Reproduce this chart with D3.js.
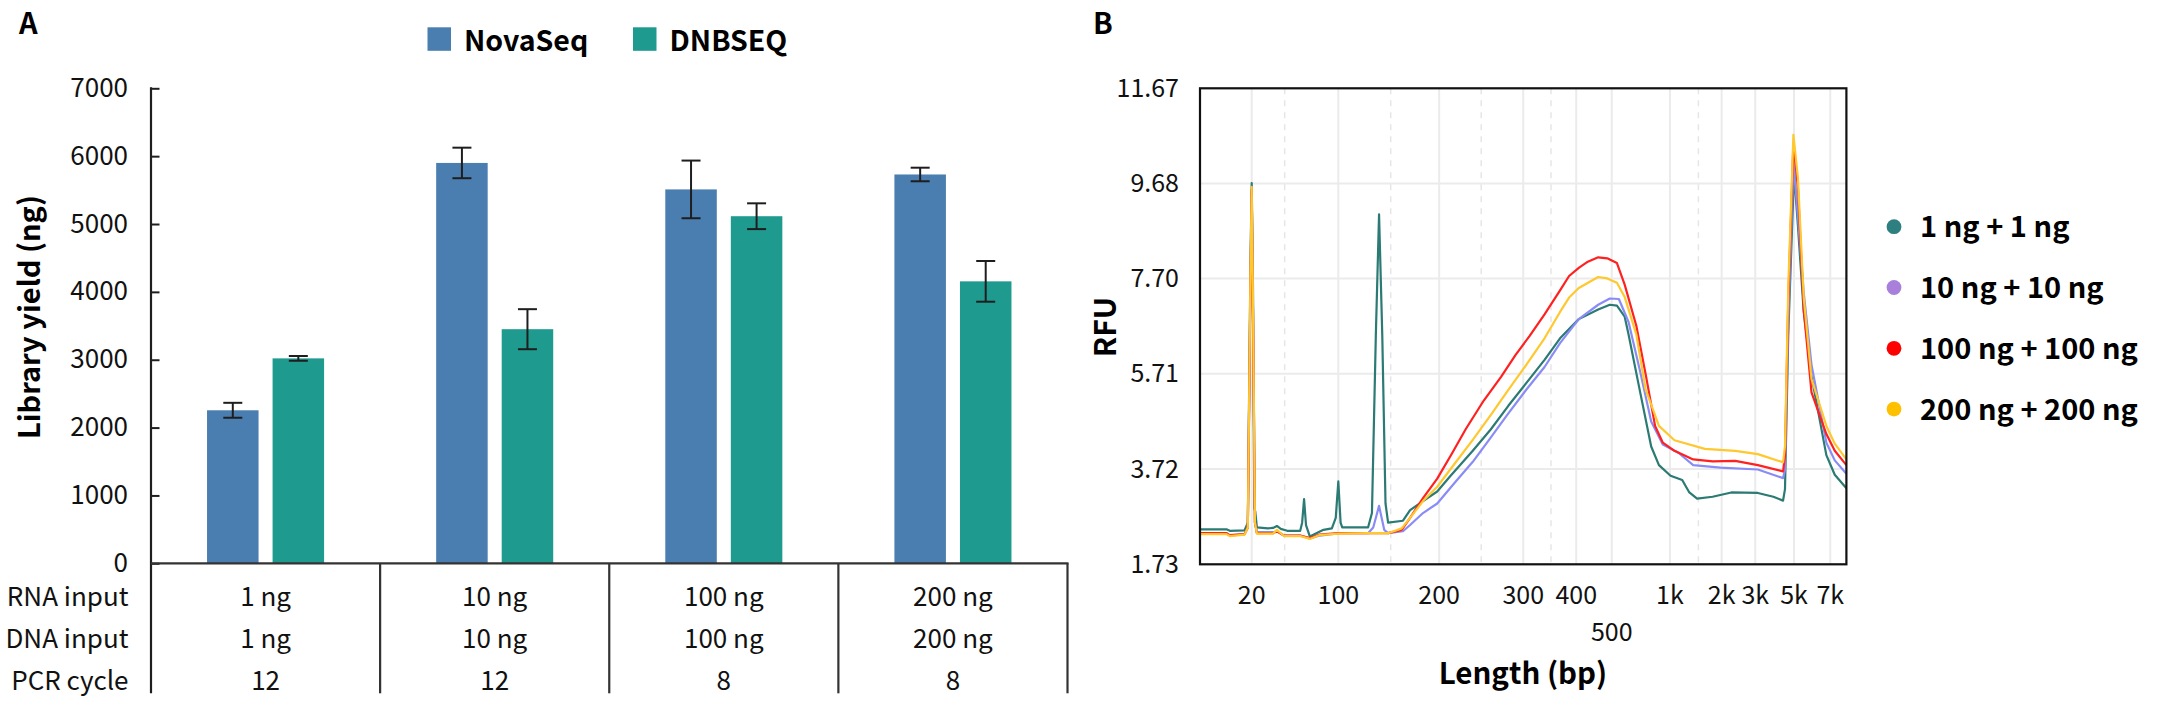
<!DOCTYPE html>
<html>
<head>
<meta charset="utf-8">
<script src="https://cdn.jsdelivr.net/npm/d3@7"></script>
<style>
  body { margin: 0; background: #fff; }
  svg { display: block; font-family: "Noto Sans CJK SC", "Noto Sans", sans-serif; }
</style>
</head>
<body>
<svg id="chart" width="2157" height="712"></svg>
<script>
// ---- panel A data ----
var groups = ["g1", "g2", "g3", "g4"];
var seriesA = ["NovaSeq", "DNBSEQ"];
var colorsA = ["#4a7eb0", "#1f9a8f"];
var novaYield = [2255, 5900, 5510, 5730];
var novaErr = [110, 225, 425, 100];
var dnbYield = [3020, 3450, 5115, 4155];
var dnbErr = [35, 295, 190, 300];
var yTicksA = [0, 1000, 2000, 3000, 4000, 5000, 6000, 7000];
var rowLabels = ["RNA input", "DNA input", "PCR cycle"];
var rnaInput = ["1 ng", "10 ng", "100 ng", "200 ng"];
var dnaInput = ["1 ng", "10 ng", "100 ng", "200 ng"];
var pcrCycle = ["12", "12", "8", "8"];

// ---- panel B data ----
// ladder sizes and their migration positions (% of run)
var ladderLabels = ["20", "100", "200", "300", "400", "500", "1k", "2k", "3k", "5k", "7k"];
var ladderPos = [8.0, 21.4, 37.0, 50.0, 58.2, 63.7, 72.7, 80.7, 85.9, 91.9, 97.5];
var minorPos = [13.1, 29.5, 43.5, 54.3, 77.1];
var yTicksB = [1.73, 3.72, 5.71, 7.70, 9.68, 11.67];
var seriesB = ["1 ng + 1 ng", "10 ng + 10 ng", "100 ng + 100 ng", "200 ng + 200 ng"];
var dotColors = ["#2e7f7f", "#a97fdc", "#ff0000", "#ffc000"];
var lineColors = ["#2b7a74", "#8a8cf6", "#ff2020", "#ffc82e"];

var trace1 = [[0,2.46],[4.1,2.46],[4.6,2.43],[6.9,2.44],[7.4,2.6],[7.8,8.0],[8.0,9.69],[8.2,7.5],[8.4,2.9],[8.55,2.83],[8.8,2.5],[10.5,2.48],[11.3,2.49],[11.9,2.53],[12.5,2.47],[13.5,2.43],[15.5,2.43],[15.8,2.6],[16.1,3.09],[16.4,2.55],[17.0,2.31],[18.0,2.38],[19.1,2.45],[20.4,2.48],[21.0,2.7],[21.4,3.46],[21.75,2.6],[22.0,2.50],[26.0,2.50],[26.6,2.8],[27.2,6.5],[27.7,9.04],[28.2,6.5],[28.7,3.0],[29.1,2.60],[31.4,2.64],[32.5,2.86],[34.5,3.05],[36.7,3.25],[38.7,3.57],[42.2,4.10],[45.0,4.55],[47.7,5.04],[50.5,5.52],[53.3,6.00],[55.7,6.45],[58.6,6.85],[61.6,7.05],[63.4,7.15],[64.5,7.13],[65.7,6.9],[66.3,6.53],[68.1,5.32],[69.8,4.19],[71.0,3.80],[72.8,3.58],[74.6,3.49],[75.7,3.23],[76.9,3.10],[79.3,3.14],[82.2,3.23],[86.3,3.22],[88.7,3.14],[90.2,3.06],[90.5,3.3],[91.0,6.5],[91.9,9.92],[92.5,8.8],[93.4,7.0],[94.6,5.66],[96.9,4.01],[98.2,3.6],[100,3.32]];
var trace2 = [[0,2.38],[4.1,2.38],[4.6,2.33],[6.9,2.36],[7.4,2.5],[7.8,7.5],[8.0,9.5],[8.2,7.0],[8.5,2.6],[8.8,2.40],[11.3,2.40],[11.9,2.42],[13.0,2.33],[15.5,2.33],[17.0,2.27],[18.5,2.33],[20.4,2.36],[21.4,2.38],[26.0,2.38],[26.8,2.5],[27.7,2.95],[28.5,2.45],[29.1,2.38],[31.4,2.42],[32.5,2.55],[34.5,2.8],[36.7,3.0],[39.5,3.45],[42.2,3.87],[45.0,4.38],[47.7,4.88],[50.5,5.38],[53.3,5.85],[55.7,6.35],[58.6,6.85],[61.6,7.15],[63.4,7.28],[64.8,7.27],[66.3,6.79],[68.1,5.75],[69.8,4.71],[71.6,4.23],[74.0,4.06],[76.3,3.80],[80.5,3.75],[86.3,3.71],[90.2,3.53],[90.5,3.7],[91.0,6.8],[91.8,10.13],[92.5,9.0],[93.4,7.4],[94.6,5.9],[96.9,4.27],[98.2,3.9],[100,3.62]];
var trace3 = [[0,2.38],[4.1,2.38],[4.6,2.34],[6.9,2.36],[7.4,2.5],[7.8,7.5],[8.0,9.55],[8.2,7.0],[8.5,2.6],[8.8,2.38],[11.3,2.38],[11.9,2.42],[13.0,2.33],[15.5,2.33],[17.0,2.28],[18.5,2.35],[21.4,2.38],[26.0,2.38],[29.1,2.38],[31.2,2.45],[32.5,2.7],[34.5,3.11],[36.7,3.52],[39.0,4.05],[41.1,4.55],[43.9,5.15],[46.6,5.65],[48.8,6.10],[51.0,6.50],[53.3,6.95],[55.7,7.45],[57.1,7.75],[58.6,7.92],[60.0,8.05],[61.6,8.14],[63.0,8.12],[64.5,8.02],[65.7,7.57],[67.5,6.71],[69.0,5.66],[70.4,4.62],[71.6,4.27],[73.4,4.10],[76.3,3.92],[79.3,3.88],[82.8,3.89],[86.3,3.80],[90.2,3.67],[90.5,4.0],[91.0,7.2],[91.8,10.52],[92.5,9.6],[93.4,7.05],[94.6,5.32],[96.9,4.45],[98.2,4.1],[100,3.80]];
var trace4 = [[0,2.36],[4.1,2.36],[4.6,2.32],[6.9,2.35],[7.4,2.5],[7.8,7.8],[8.0,9.61],[8.2,7.2],[8.5,2.6],[8.8,2.37],[11.3,2.37],[11.9,2.45],[13.0,2.32],[15.5,2.32],[17.0,2.26],[18.5,2.34],[21.4,2.37],[26.0,2.38],[29.1,2.38],[31.2,2.48],[32.5,2.7],[34.5,3.05],[36.7,3.35],[39.5,3.85],[42.2,4.33],[45.0,4.85],[47.7,5.37],[50.5,5.90],[53.3,6.45],[55.7,7.0],[57.1,7.30],[58.6,7.5],[61.6,7.73],[63.0,7.70],[64.5,7.61],[65.7,7.31],[67.5,6.53],[68.9,5.40],[71.0,4.62],[73.4,4.32],[78.1,4.14],[82.8,4.10],[86.3,4.03],[90.2,3.86],[90.5,4.2],[91.0,7.5],[91.8,10.70],[92.5,9.8],[93.4,7.3],[94.6,5.6],[96.9,4.62],[98.2,4.25],[100,3.92]];
var tracesB = [trace1, trace2, trace3, trace4];

var svg = d3.select("#chart");
var ink = "#1e1e1e";

// ================= Panel A =================
var gA = svg.append("g");

gA.append("text").attr("x", 19).attr("y", 34)
    .style("font-size", "29px").style("font-weight", "bold").text("A");

var yA = d3.scaleLinear().domain([0, 7000]).range([563.3, 88.3]);
var x0 = d3.scaleBand().domain(groups).range([151, 1067.5]).paddingInner(0).paddingOuter(0);
var x1 = d3.scaleBand().domain(seriesA).range([0, x0.bandwidth()]).paddingInner(0.214).paddingOuter(0.855);

// bars
var barData = [];
groups.forEach(function(g, i) {
    barData.push({g: g, s: "NovaSeq", v: novaYield[i], e: novaErr[i], c: colorsA[0]});
    barData.push({g: g, s: "DNBSEQ", v: dnbYield[i], e: dnbErr[i], c: colorsA[1]});
});

gA.selectAll("rect.bar").data(barData).enter().append("rect")
    .attr("class", "bar")
    .attr("x", function(d) { return x0(d.g) + x1(d.s); })
    .attr("y", function(d) { return yA(d.v); })
    .attr("width", x1.bandwidth())
    .attr("height", function(d) { return yA(0) - yA(d.v); })
    .attr("fill", function(d) { return d.c; });

// error bars
var eb = gA.selectAll("g.err").data(barData).enter().append("g").attr("class", "err")
    .attr("stroke", ink).attr("stroke-width", 2);
eb.append("line")
    .attr("x1", function(d) { return x0(d.g) + x1(d.s) + x1.bandwidth() / 2; })
    .attr("x2", function(d) { return x0(d.g) + x1(d.s) + x1.bandwidth() / 2; })
    .attr("y1", function(d) { return yA(d.v + d.e); })
    .attr("y2", function(d) { return yA(d.v - d.e); });
[1, -1].forEach(function(sign) {
    eb.append("line")
        .attr("x1", function(d) { return x0(d.g) + x1(d.s) + x1.bandwidth() / 2 - 9.5; })
        .attr("x2", function(d) { return x0(d.g) + x1(d.s) + x1.bandwidth() / 2 + 9.5; })
        .attr("y1", function(d) { return yA(d.v + sign * d.e); })
        .attr("y2", function(d) { return yA(d.v + sign * d.e); });
});

// y axis
var axA = gA.append("g").attr("transform", "translate(151,0)")
    .call(d3.axisLeft(yA).tickValues(yTicksA).tickFormat(d3.format("d"))
        .tickSizeInner(-8.5).tickSizeOuter(0).tickPadding(23));
axA.select(".domain").remove();
axA.selectAll(".tick line").attr("stroke", ink).attr("stroke-width", 2);
axA.selectAll(".tick text").attr("dy", null).attr("y", 8)
    .style("font-size", "26px").style("font-family", "Noto Sans CJK SC").attr("fill", "#111");

// axis line + table grid
var tableBottom = 693.3;
gA.append("line").attr("x1", 151).attr("x2", 151).attr("y1", 87.3).attr("y2", tableBottom)
    .attr("stroke", ink).attr("stroke-width", 2.2);
gA.append("line").attr("x1", 151).attr("x2", 1068.5).attr("y1", yA(0)).attr("y2", yA(0))
    .attr("stroke", "#333").attr("stroke-width", 2.2);
gA.selectAll("line.div").data(groups).enter().append("line").attr("class", "div")
    .attr("x1", function(d) { return x0(d) + x0.bandwidth(); })
    .attr("x2", function(d) { return x0(d) + x0.bandwidth(); })
    .attr("y1", yA(0)).attr("y2", tableBottom)
    .attr("stroke", "#333").attr("stroke-width", 2.2);

// y title
gA.append("text")
    .attr("transform", "translate(40,317) rotate(-90)")
    .attr("text-anchor", "middle")
    .style("font-size", "29px").style("font-weight", "bold")
    .text("Library yield (ng)");

// table rows
var rowBase = [606, 648, 690];
var rowVals = [rnaInput, dnaInput, pcrCycle];
rowLabels.forEach(function(lab, r) {
    gA.append("text").attr("x", 128.5).attr("y", rowBase[r]).attr("text-anchor", "end")
        .style("font-size", "26px").attr("fill", "#111").text(lab);
    gA.selectAll("text.cell" + r).data(rowVals[r]).enter().append("text")
        .attr("class", "cell" + r)
        .attr("x", function(d, i) { return x0(groups[i]) + x0.bandwidth() / 2; })
        .attr("y", rowBase[r]).attr("text-anchor", "middle")
        .style("font-size", "26px").attr("fill", "#111")
        .text(function(d) { return d; });
});

// legend A
var legA = gA.append("g");
var legAX = [427.5, 633];
seriesA.forEach(function(s, i) {
    legA.append("rect").attr("x", legAX[i]).attr("y", 27.3).attr("width", 23.5).attr("height", 23.5)
        .attr("fill", colorsA[i]);
    legA.append("text").attr("x", legAX[i] + 36.5).attr("y", 50.5)
        .style("font-size", "28.5px").style("font-weight", "bold").text(s);
});

// ================= Panel B =================
var gB = svg.append("g");
gB.append("text").attr("x", 1093).attr("y", 34)
    .style("font-size", "29px").style("font-weight", "bold").text("B");

var xB = d3.scaleLinear().domain([0, 100]).range([1200, 1846.4]);
var yB = d3.scaleLinear().domain([1.73, 11.67]).range([564.3, 88.3]);

// grid
gB.selectAll("line.hg").data(yTicksB.slice(1, 5)).enter().append("line").attr("class", "hg")
    .attr("x1", 1200).attr("x2", 1846.4)
    .attr("y1", function(d) { return yB(d); }).attr("y2", function(d) { return yB(d); })
    .attr("stroke", "#ebebeb").attr("stroke-width", 2);
gB.selectAll("line.vg").data(ladderPos).enter().append("line").attr("class", "vg")
    .attr("x1", function(d) { return xB(d); }).attr("x2", function(d) { return xB(d); })
    .attr("y1", 88.3).attr("y2", 564.3)
    .attr("stroke", "#ebebeb").attr("stroke-width", 2);
gB.selectAll("line.mg").data(minorPos).enter().append("line").attr("class", "mg")
    .attr("x1", function(d) { return xB(d); }).attr("x2", function(d) { return xB(d); })
    .attr("y1", 88.3).attr("y2", 564.3)
    .attr("stroke", "#e6e6e6").attr("stroke-width", 1.5).attr("stroke-dasharray", "6,6");

// traces
gB.append("clipPath").attr("id", "clipB").append("rect")
    .attr("x", 1200).attr("y", 88.3).attr("width", 646.4).attr("height", 476);
var line = d3.line().x(function(d) { return xB(d[0]); }).y(function(d) { return yB(d[1]); });
gB.append("g").attr("clip-path", "url(#clipB)")
    .selectAll("path").data(tracesB).enter().append("path")
    .attr("d", line)
    .attr("fill", "none")
    .attr("stroke", function(d, i) { return lineColors[i]; })
    .attr("stroke-width", 2.2)
    .attr("stroke-linejoin", "round");

// frame
gB.append("rect").attr("x", 1200).attr("y", 88.3).attr("width", 646.4).attr("height", 476)
    .attr("fill", "none").attr("stroke", "#111").attr("stroke-width", 2.2);

// y ticks
gB.selectAll("text.yt").data(yTicksB).enter().append("text").attr("class", "yt")
    .attr("x", 1179).attr("y", function(d) { return yB(d) + 8.5; })
    .attr("text-anchor", "end").style("font-size", "25px").attr("fill", "#111")
    .text(function(d) { return d3.format(".2f")(d); });

// x ticks
gB.selectAll("text.xt").data(ladderLabels).enter().append("text").attr("class", "xt")
    .attr("x", function(d, i) { return xB(ladderPos[i]); })
    .attr("y", function(d) { return d === "500" ? 640.5 : 603.5; })
    .attr("text-anchor", "middle").style("font-size", "25px").attr("fill", "#111")
    .text(function(d) { return d; });

// axis titles
gB.append("text").attr("x", 1523).attr("y", 683.5).attr("text-anchor", "middle")
    .style("font-size", "29.5px").style("font-weight", "bold").text("Length (bp)");
gB.append("text").attr("transform", "translate(1115.5,327) rotate(-90)")
    .attr("text-anchor", "middle")
    .style("font-size", "30px").style("font-weight", "bold").text("RFU");

// legend B
var legB = gB.selectAll("g.legB").data(seriesB).enter().append("g").attr("class", "legB")
    .attr("transform", function(d, i) { return "translate(1894," + (226.7 + i * 60.8) + ")"; });
legB.append("circle").attr("r", 7.4).attr("fill", function(d, i) { return dotColors[i]; });
legB.append("text").attr("x", 26).attr("y", 10.5)
    .style("font-size", "29px").style("font-weight", "bold")
    .text(function(d) { return d; });
</script>
</body>
</html>
